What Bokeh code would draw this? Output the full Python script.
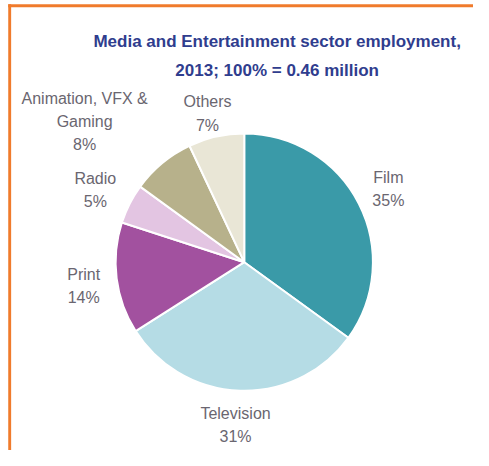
import numpy as np
from bokeh.plotting import figure
from bokeh.models import ColumnDataSource, Range1d
from bokeh.embed import file_html
from bokeh.resources import INLINE
from bokeh.core.properties import value

# ---- data ----
categories = ["Film", "Television", "Print", "Radio", "Animation, VFX & Gaming", "Others"]
shares = [35, 31, 14, 5, 8, 7]
label_lines = [["Film", "35%"], ["Television", "31%"], ["Print", "14%"], ["Radio", "5%"],
               ["Animation, VFX &", "Gaming", "8%"], ["Others", "7%"]]
title_lines = ["Media and Entertainment sector employment,", "2013; 100% = 0.46 million"]

# ---- styles / layout ----
colors = ["#3a9aa8", "#b5dce5", "#a2519f", "#e3c5e2", "#b7b18b", "#e9e6d6"]
label_pos = [(401, 183), (243, 428), (86, 284), (98, 184), (87, 101), (214, 105)]
line_gap = 24
W, H = 473, 450
IW, IH = 489, 466
cx, cy, r = 252, IH - 271, 133

p = figure(width=W, height=H, output_backend="svg", toolbar_location=None,
           x_range=Range1d(0, IW), y_range=Range1d(0, IH), min_border=0)
p.axis.visible = False
p.grid.visible = False
p.outline_line_color = None
p.background_fill_color = "white"

# orange border (left and top)
p.quad(left=[8], right=[11], bottom=[0], top=[IH - 4], fill_color="#f07b2c", line_color=None)
p.quad(left=[8], right=[IW], bottom=[IH - 7], top=[IH - 4], fill_color="#f07b2c", line_color=None)

fr = np.array(shares) / sum(shares)
cum = np.concatenate([[0], np.cumsum(fr)])
start = np.pi / 2 - 2 * np.pi * cum[:-1]
end = np.pi / 2 - 2 * np.pi * cum[1:]
src = ColumnDataSource(dict(start=start, end=end, color=colors, cat=categories))
p.wedge(x=cx, y=cy, radius=r, start_angle="start", end_angle="end", direction="clock",
        fill_color="color", line_color="white", line_width=2, source=src)

# labels
tx, ty, tt = [], [], []
for (lx, ly), lines in zip(label_pos, label_lines):
    for i, t in enumerate(lines):
        tx.append(lx)
        ty.append(IH - (ly + i * line_gap))
        tt.append(t)
p.text(x=tx, y=ty, text=tt, text_align="center", text_baseline="middle",
       text_font=value("Liberation Sans"), text_font_size="16px", text_color="#6a6670")

# title
p.text(x=[286, 286], y=[IH - 42, IH - 73], text=title_lines, text_align="center",
       text_baseline="middle", text_font=value("Liberation Sans"), text_font_style="bold",
       text_font_size="17px", text_color="#2f3d8e")

open("out.html", "w").write(file_html(p, INLINE))
